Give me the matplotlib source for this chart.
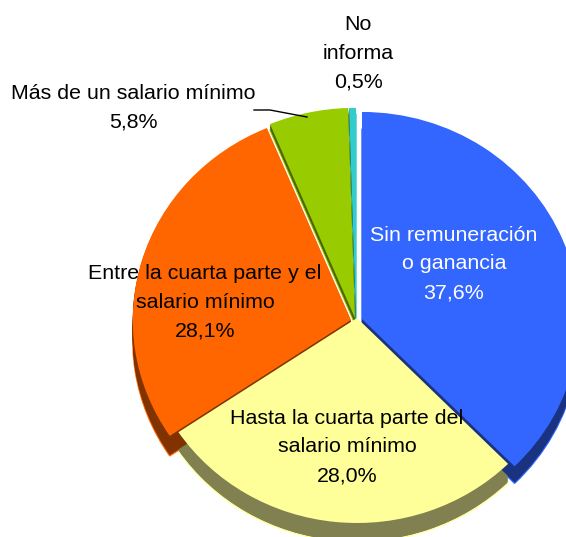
import matplotlib
matplotlib.use('Agg')
import matplotlib.pyplot as plt

W,H=566,537
plt.rcParams['font.family']=['Liberation Sans','DejaVu Sans']

categorias=['Sin remuneración\no ganancia','Hasta la cuarta parte del\nsalario mínimo',
            'Entre la cuarta parte y el\nsalario mínimo','Más de un salario mínimo','No\ninforma']
valores=[37.6,28.0,28.1,5.8,0.5]
colores=['#3366FF','#FFFF99','#FF6600','#99CC00','#33CCCC']
sombras=['#1A3380','#808050','#803300','#4D6600','#1A6666']
col_texto=['white','black','black','black','black']

# centro de la torta y radios en pixeles
cx,cy=357,318
rx,ry=215,205
# desplazamiento, radio relativo y profundidad de cada porcion
dx=[5,0,-6,-2,-1]
dy=[-1,0,-2,0,0]
radio=[1.01,1.0,1.015,1.025,1.025]
prof=[17,19,20,6,6]
# posicion de las etiquetas (pixeles)
pos_lab=[(454,264),(347,447),(205,302),(133,108),(358,53)]

fig=plt.figure(figsize=(W/100,H/100),dpi=100)
ax=fig.add_axes([0,0,1,1])

# las paredes se arman apilando copias de cada porcion
for d in range(1,max(prof)+1):
    capa,_=ax.pie(valores,colors=sombras,startangle=90,counterclock=False,
                  wedgeprops={'linewidth':0})
    for i in range(len(valores)):
        capa[i].set_radius(radio[i])
        capa[i].set_zorder(1+d*0.001)
        if d<prof[i]:
            capa[i].set_center((dx[i]/rx,(dy[i]-d)/ry))
        elif d==prof[i]:
            capa[i].set_center((dx[i]/rx,(dy[i]-d)/ry))
            capa[i].set_edgecolor(colores[i])
            capa[i].set_linewidth(1.0)
            capa[i].set_zorder(0.9)
        else:
            capa[i].set_visible(False)

tapa,_=ax.pie(valores,colors=colores,startangle=90,counterclock=False,
              wedgeprops={'linewidth':0})
for i in range(len(valores)):
    tapa[i].set_radius(radio[i])
    tapa[i].set_center((dx[i]/rx,dy[i]/ry))
    tapa[i].set_zorder(2)

ax.set_aspect('auto')
ax.set_xlim((0-cx)/rx,(W-cx)/rx)
ax.set_ylim((cy-H)/ry,cy/ry)
ax.axis('off')

for i in range(len(valores)):
    txt=categorias[i]+'\n'+('%.1f%%'%valores[i]).replace('.',',')
    fig.text(pos_lab[i][0]/W,1-pos_lab[i][1]/H,txt,ha='center',va='center',
             fontsize=15.4,color=col_texto[i],linespacing=1.65,zorder=5)

# linea guia de la etiqueta de 5,8%
fig.add_artist(plt.Line2D([254/W,270/W,307/W],[1-110/H,1-110/H,1-117/H],color='black',lw=1))

fig.savefig('out.png',dpi=100)
